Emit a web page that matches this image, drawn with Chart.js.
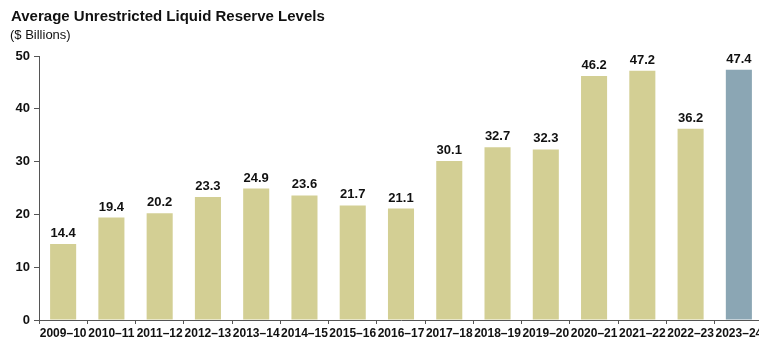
<!DOCTYPE html>
<html>
<head>
<meta charset="utf-8">
<script src="https://cdn.jsdelivr.net/npm/chart.js@4.4.1/dist/chart.umd.min.js"></script>
<style>
  html, body { margin:0; padding:0; background:#fff; overflow:hidden; }
  #wrap { position:relative; width:766px; height:341px; }
</style>
</head>
<body>
<div id="wrap"><canvas id="reserves" width="766" height="341"></canvas></div>
<script>
const years = ['2009–10','2010–11','2011–12','2012–13','2013–14','2014–15','2015–16','2016–17',
  '2017–18','2018–19','2019–20','2020–21','2021–22','2022–23','2023–24'];
const reserves = [14.4, 19.4, 20.2, 23.3, 24.9, 23.6, 21.7, 21.1, 30.1, 32.7, 32.3, 46.2, 47.2, 36.2, 47.4];
const yTicks = [0, 10, 20, 30, 40, 50];

const KHAKI = '#d3cf94';
const SLATE = '#8ba6b4';
const INK = '#111';
const FONT = 'Arial, "Liberation Sans", sans-serif';

// title + value labels drawn straight onto the canvas
const decor = {
  id: 'decor',
  afterDatasetsDraw(chart) {
    const { ctx } = chart;
    ctx.save();
    ctx.fillStyle = INK;
    ctx.textAlign = 'left';
    ctx.textBaseline = 'alphabetic';
    ctx.font = 'bold 15px ' + FONT;
    ctx.fillText('Average Unrestricted Liquid Reserve Levels', 11, 21);
    ctx.font = '13px ' + FONT;
    ctx.fillText('($ Billions)', 10, 39);

    ctx.font = 'bold 13px ' + FONT;
    ctx.textAlign = 'center';
    const meta = chart.getDatasetMeta(0);
    meta.data.forEach((bar, i) => {
      ctx.fillText(reserves[i].toFixed(1), bar.x, bar.y - 7);
    });
    ctx.restore();
  }
};

new Chart(document.getElementById('reserves'), {
  type: 'bar',
  data: {
    labels: years,
    datasets: [{
      data: reserves,
      backgroundColor: reserves.map((v, i) => i === reserves.length - 1 ? SLATE : KHAKI),
      borderWidth: 0,
      barPercentage: 0.54,
      categoryPercentage: 1
    }]
  },
  options: {
    responsive: false,
    animation: false,
    layout: { padding: { top: 56, left: 0, right: 3, bottom: 0 } },
    plugins: { legend: { display: false }, tooltip: { enabled: false } },
    scales: {
      x: {
        offset: true,
        grid: { offset: true, drawOnChartArea: false, tickLength: 4, color: '#555', tickColor: '#555' },
        border: { color: '#555', width: 1 },
        ticks: {
          autoSkip: false, maxRotation: 0, minRotation: 0, padding: 2,
          color: INK, font: { family: FONT, size: 12, weight: 'bold' }
        },
        afterFit(scale) { scale.height = 21; }
      },
      y: {
        min: 0, max: 50,
        afterBuildTicks(scale) { scale.ticks = yTicks.map(v => ({ value: v })); },
        grid: { drawOnChartArea: false, tickLength: 5, color: '#555', tickColor: '#555' },
        border: { color: '#555', width: 1 },
        ticks: {
          padding: 4, color: INK,
          font: { family: FONT, size: 13, weight: 'bold' }
        },
        afterFit(scale) { scale.width = 39; }
      }
    }
  },
  plugins: [decor]
});
</script>
</body>
</html>
